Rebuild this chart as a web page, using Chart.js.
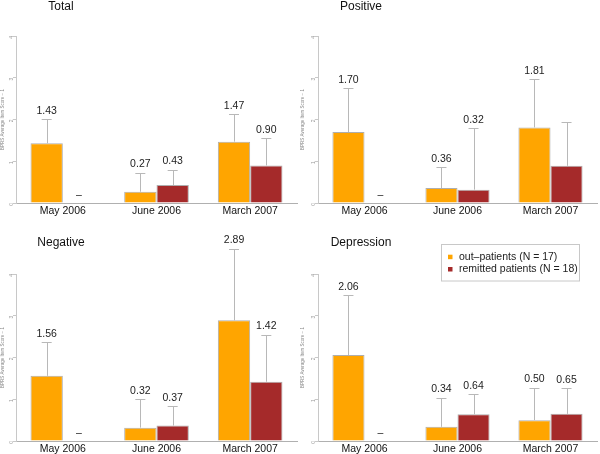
<!DOCTYPE html>
<html>
<head>
<meta charset="utf-8">
<script src="https://cdn.jsdelivr.net/npm/chart.js@4"></script>
<style>
  body { margin: 0; background: #fff; }
  #wrap { position: relative; width: 600px; height: 454px; }
  canvas { position: absolute; }
</style>
</head>
<body>
<div id="wrap">
  <canvas id="totalChart" width="300" height="227" style="left:0;top:0"></canvas>
  <canvas id="positiveChart" width="300" height="227" style="left:300px;top:0"></canvas>
  <canvas id="negativeChart" width="300" height="227" style="left:0;top:227px"></canvas>
  <canvas id="depressionChart" width="300" height="227" style="left:300px;top:227px"></canvas>
</div>
<script>
const months = ["May 2006", "June 2006", "March 2007"];
const seriesNames = ["out\u2013patients (N = 17)", "remitted patients (N = 18)"];

const totalOut = [1.43, 0.27, 1.47];
const totalOutTop = [2.01, 0.73, 2.14];
const totalRem = [null, 0.43, 0.90];
const totalRemTop = [null, 0.80, 1.55];

const positiveOut = [1.70, 0.36, 1.81];
const positiveOutTop = [2.75, 0.86, 2.96];
const positiveRem = [null, 0.32, 0.89];
const positiveRemTop = [null, 1.79, 1.94];

const negativeOut = [1.56, 0.32, 2.89];
const negativeOutTop = [2.38, 1.00, 4.61];
const negativeRem = [null, 0.37, 1.42];
const negativeRemTop = [null, 0.83, 2.55];

const depressionOut = [2.06, 0.34, 0.50];
const depressionOutTop = [3.49, 1.04, 1.28];
const depressionRem = [null, 0.64, 0.65];
const depressionRemTop = [null, 1.12, 1.26];

const ORANGE = "#FFA500";
const BROWN = "#A52A2A";
const FONT = "'Liberation Sans', Arial, sans-serif";

// error bars (upper only) + value labels above them
const errorBars = {
  id: "errorBars",
  afterDatasetsDraw(chart, args, opts) {
    const ctx = chart.ctx;
    const y = chart.scales.y;
    ctx.save();
    chart.data.datasets.forEach((ds, di) => {
      chart.getDatasetMeta(di).data.forEach((bar, i) => {
        const val = ds.raw[i];
        const top = ds.tops[i];
        let yTop = y.getPixelForValue(0);
        if (val != null && top != null) {
          yTop = y.getPixelForValue(top);
          ctx.strokeStyle = "#b8b8b8";
          ctx.lineWidth = 1;
          ctx.beginPath();
          ctx.moveTo(Math.round(bar.x) + 0.5, bar.y);
          ctx.lineTo(Math.round(bar.x) + 0.5, Math.round(yTop) + 0.5);
          ctx.moveTo(bar.x - 5, Math.round(yTop) + 0.5);
          ctx.lineTo(bar.x + 5, Math.round(yTop) + 0.5);
          ctx.stroke();
        }
        if (ds.hideLabel && ds.hideLabel.includes(i)) return;
        const txt = val == null ? "\u2013" : val.toFixed(2);
        ctx.fillStyle = "#222";
        ctx.font = "10.5px " + FONT;
        ctx.textAlign = "center";
        ctx.textBaseline = "middle";
        ctx.fillText(txt, bar.x, yTop - 8);
      });
    });
    ctx.restore();
  }
};

// panel title
const panelTitle = {
  id: "panelTitle",
  afterDraw(chart, args, opts) {
    const ctx = chart.ctx;
    ctx.save();
    ctx.fillStyle = "#111";
    ctx.font = "12px " + FONT;
    ctx.textAlign = "center";
    ctx.textBaseline = "middle";
    ctx.fillText(opts.text, 61, opts.y);
    ctx.restore();
  }
};

// boxed legend (only shown in the Depression panel)
const boxLegend = {
  id: "boxLegend",
  afterDraw(chart, args, opts) {
    if (!opts.show) return;
    const ctx = chart.ctx;
    ctx.save();
    ctx.strokeStyle = "#c8c8c8";
    ctx.lineWidth = 1;
    ctx.strokeRect(141.5, 17.5, 138, 36.5);
    const colors = [ORANGE, BROWN];
    seriesNames.forEach((name, i) => {
      const cy = 30 + i * 12.3;
      ctx.fillStyle = colors[i];
      ctx.fillRect(148, cy - 2.3, 4.5, 4.5);
      ctx.fillStyle = "#222";
      ctx.font = "10.5px " + FONT;
      ctx.textAlign = "left";
      ctx.textBaseline = "middle";
      ctx.fillText(name, 159, cy);
    });
    ctx.restore();
  }
};

function makePanel(id, title, out, outTop, rem, remTop, opt) {
  new Chart(document.getElementById(id).getContext("2d"), {
    type: "bar",
    data: {
      labels: months,
      datasets: [
        {
          label: seriesNames[0],
          data: out.map(v => v ?? 0),
          raw: out,
          tops: outTop,
          backgroundColor: ORANGE,
          borderColor: "rgba(140,140,140,0.7)",
          borderWidth: 1,
        },
        {
          label: seriesNames[1],
          data: rem.map(v => v ?? 0),
          raw: rem,
          tops: remTop,
          hideLabel: opt.hideRem || [],
          backgroundColor: BROWN,
          borderColor: "rgba(140,140,140,0.7)",
          borderWidth: 1,
        },
      ],
    },
    options: {
      responsive: false,
      animation: false,
      layout: { padding: { top: opt.top, right: 3, left: 0, bottom: 0 } },
      datasets: { bar: { barPercentage: 1, categoryPercentage: 0.69 } },
      scales: {
        x: {
          grid: { display: false, drawTicks: false },
          border: { color: "#b0b0b0" },
          ticks: { color: "#111", font: { size: 10.5, family: FONT }, padding: 2, maxRotation: 0 },
          afterFit: s => { s.height = opt.xHeight; },
        },
        y: {
          min: 0,
          max: 4,
          grid: { drawOnChartArea: false, drawTicks: true, tickLength: 3, color: "#c8c8c8" },
          border: { color: "#c8c8c8" },
          ticks: { stepSize: 1, color: "#999", font: { size: 5, family: FONT }, padding: 1, minRotation: 90, maxRotation: 90 },
          title: {
            display: true,
            text: "BPRS Average Item Score \u2212 1",
            color: "#888",
            font: { size: 4.5, family: FONT },
            padding: 0,
          },
          afterFit: s => { s.width = opt.yWidth; },
        },
      },
      plugins: {
        legend: { display: false },
        tooltip: { enabled: false },
        panelTitle: { text: title, y: opt.titleY },
        boxLegend: { show: !!opt.legend },
      },
    },
    plugins: [errorBars, panelTitle, boxLegend],
  });
}

makePanel("totalChart", "Total", totalOut, totalOutTop, totalRem, totalRemTop,
  { top: 36, xHeight: 24, yWidth: 16, titleY: 7 });
makePanel("positiveChart", "Positive", positiveOut, positiveOutTop, positiveRem, positiveRemTop,
  { top: 36, xHeight: 24, yWidth: 18, titleY: 7, hideRem: [2] });
makePanel("negativeChart", "Negative", negativeOut, negativeOutTop, negativeRem, negativeRemTop,
  { top: 47, xHeight: 13, yWidth: 16, titleY: 16 });
makePanel("depressionChart", "Depression", depressionOut, depressionOutTop, depressionRem, depressionRemTop,
  { top: 47, xHeight: 13, yWidth: 18, titleY: 16, legend: true });
</script>
</body>
</html>
